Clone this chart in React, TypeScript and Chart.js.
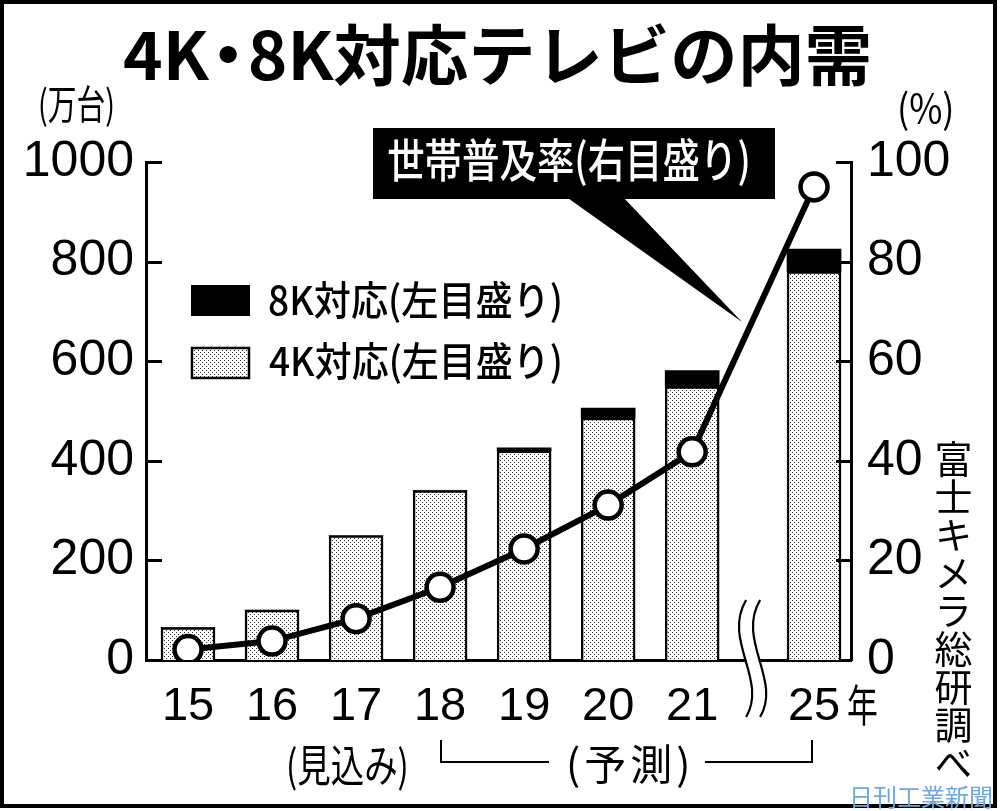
import { useEffect, useRef } from 'react';
import { Chart, registerables } from 'chart.js';

Chart.register(...registerables);

// 年（25年の前で横軸を省略している）
const YEARS = ['15', '16', '17', '18', '19', '20', '21', '25'];
// 4K対応テレビの内需（万台）
const UNITS_4K = [65, 100, 250, 340, 420, 486, 549, 780];
// 8K対応テレビの内需（万台）
const UNITS_8K = [0, 0, 0, 0, 6, 20, 32, 45];
// 世帯普及率（%）
const PENETRATION = [2.1, 3.8, 8.3, 14.6, 22.3, 31.1, 41.8, 95];
const LEFT_TICKS = [0, 200, 400, 600, 800, 1000];
const RIGHT_TICKS = [0, 20, 40, 60, 80, 100];

const BREAK_AT = YEARS.indexOf('25');
const BREAK_GAP = 0.45;
const JP = '"Noto Sans CJK JP", sans-serif';
const NUM = '"Liberation Sans", Arial, sans-serif';

function makeDots() {
  const c = document.createElement('canvas');
  c.width = 4;
  c.height = 4;
  const g = c.getContext('2d')!;
  g.fillStyle = '#fff';
  g.fillRect(0, 0, 4, 4);
  g.fillStyle = '#333';
  g.fillRect(0, 0, 1, 1);
  g.fillRect(2, 2, 1, 1);
  return g.createPattern(c, 'repeat')!;
}

// 文字の墨の幅を left〜right に合わせて描く
function inkText(ctx: CanvasRenderingContext2D, text: string, left: number, right: number, cy: number, font: string, color: string) {
  ctx.save();
  ctx.font = font;
  ctx.textAlign = 'left';
  ctx.textBaseline = 'alphabetic';
  const m = ctx.measureText(text);
  const w = m.actualBoundingBoxLeft + m.actualBoundingBoxRight;
  const y = cy + (m.actualBoundingBoxAscent - m.actualBoundingBoxDescent) / 2;
  ctx.translate(left, y);
  ctx.scale((right - left) / w, 1);
  ctx.fillStyle = color;
  ctx.fillText(text, m.actualBoundingBoxLeft, 0);
  ctx.restore();
}

const decorations = (dots: CanvasPattern) => ({
  id: 'decorations',
  afterDraw(chart: any) {
    const ctx: CanvasRenderingContext2D = chart.ctx;
    const { left, right, bottom } = chart.chartArea;
    const y = chart.scales.y;
    const y2 = chart.scales.y2;
    const x = chart.scales.x;
    ctx.save();
    ctx.strokeStyle = '#000';
    ctx.lineWidth = 3;
    // 内向きの目盛り
    LEFT_TICKS.forEach(v => {
      if (v === 0) return;
      const py = Math.round(y.getPixelForValue(v)) + 0.5;
      ctx.beginPath();
      ctx.moveTo(left, py);
      ctx.lineTo(left + 16, py);
      ctx.stroke();
    });
    RIGHT_TICKS.forEach(v => {
      if (v === 0) return;
      const py = Math.round(y2.getPixelForValue(v)) + 0.5;
      ctx.beginPath();
      ctx.moveTo(right - 15, py);
      ctx.lineTo(right, py);
      ctx.stroke();
    });

    // 省略記号
    const mid = x.getPixelForValue((BREAK_AT - 1 + BREAK_AT + BREAK_GAP) / 2);
    const wave = (x0: number) => {
      const t = bottom - 60;
      ctx.beginPath();
      ctx.moveTo(x0, t);
      ctx.bezierCurveTo(x0 - 24, t + 40, x0 + 22, t + 80, x0, t + 117);
    };
    ctx.strokeStyle = '#fff';
    ctx.lineWidth = 12;
    wave(mid);
    ctx.stroke();
    ctx.strokeStyle = '#000';
    ctx.lineWidth = 2.2;
    wave(mid - 7);
    ctx.stroke();
    wave(mid + 7);
    ctx.stroke();

    // 凡例
    ctx.fillStyle = '#000';
    ctx.fillRect(191, 285, 59, 31);
    ctx.fillStyle = dots;
    ctx.fillRect(191, 347, 59, 32);
    ctx.lineWidth = 2.5;
    ctx.strokeRect(192, 348, 57, 30);
    inkText(ctx, '8K対応(左目盛り)', 269, 560, 301, `500 40px ${JP}`, '#000');
    inkText(ctx, '4K対応(左目盛り)', 269, 560, 362, `500 40px ${JP}`, '#000');

    // 世帯普及率の吹き出し
    ctx.fillStyle = '#000';
    ctx.beginPath();
    ctx.moveTo(565, 196);
    ctx.lineTo(742, 322);
    ctx.lineTo(622, 196);
    ctx.closePath();
    ctx.fill();
    ctx.fillRect(373, 128, 402, 71);
    inkText(ctx, '世帯普及率(右目盛り)', 388, 748, 162, `500 46px ${JP}`, '#fff');
    ctx.restore();
  },
});

const abs = (l: number, t: number, size: number, extra: any = {}) => ({
  position: 'absolute' as const,
  left: l,
  top: t,
  fontFamily: JP,
  fontSize: size,
  lineHeight: 1,
  whiteSpace: 'nowrap' as const,
  color: '#000',
  transformOrigin: 'left top',
  ...extra,
});

export default function App() {
  const canvasRef = useRef<HTMLCanvasElement>(null);
  const chartRef = useRef<Chart | null>(null);

  useEffect(() => {
    if (!canvasRef.current) return;
    if (chartRef.current) chartRef.current.destroy();

    const dots = makeDots();
    const slots = YEARS.map((_, i) => (i < BREAK_AT ? i : i + BREAK_GAP));
    const pts = (vals: number[]) => vals.map((v, i) => ({ x: slots[i], y: v }));

    chartRef.current = new Chart(canvasRef.current, {
      type: 'bar',
      data: {
        datasets: [
          {
            type: 'line',
            label: '世帯普及率',
            data: pts(PENETRATION),
            yAxisID: 'y2',
            borderColor: '#000',
            borderWidth: 6,
            pointRadius: 13.5,
            pointBorderWidth: 4.5,
            pointBackgroundColor: '#fff',
            pointBorderColor: '#000',
            order: 0,
          } as any,
          {
            label: '4K対応',
            data: pts(UNITS_4K),
            yAxisID: 'y',
            stack: 'tv',
            backgroundColor: dots,
            borderColor: '#000',
            borderWidth: 2.5,
            barThickness: 54,
            order: 1,
          },
          {
            label: '8K対応',
            data: pts(UNITS_8K),
            yAxisID: 'y',
            stack: 'tv',
            backgroundColor: '#000',
            borderWidth: 0,
            barThickness: 54,
            order: 1,
          },
        ],
      },
      options: {
        responsive: false,
        animation: false,
        devicePixelRatio: 1,
        layout: { padding: { top: 162, bottom: 91, left: 0, right: 0 } },
        plugins: { legend: { display: false }, tooltip: { enabled: false } },
        scales: {
          x: {
            type: 'linear',
            min: -0.5,
            max: BREAK_AT + BREAK_GAP + 0.44,
            offset: false,
            grid: { display: false, drawTicks: false },
            border: { display: true, color: '#000', width: 3 },
            afterBuildTicks: (s: any) => { s.ticks = slots.map(v => ({ value: v })); },
            afterFit: (s: any) => { s.height = 60; },
            ticks: {
              autoSkip: false,
              maxRotation: 0,
              padding: 19,
              color: '#000',
              font: { family: NUM, size: 47 },
              callback: (_v: any, i: number) => YEARS[i],
            },
          },
          y: {
            position: 'left',
            stacked: true,
            min: 0,
            max: 1000,
            grid: { display: false, drawTicks: false },
            border: { display: true, color: '#000', width: 3 },
            afterBuildTicks: (s: any) => { s.ticks = LEFT_TICKS.map(v => ({ value: v })); },
            afterFit: (s: any) => { s.width = 146; },
            ticks: { padding: 12, color: '#000', font: { family: NUM, size: 50 }, callback: (v: any) => String(v) },
          },
          y2: {
            position: 'right',
            min: 0,
            max: 100,
            grid: { display: false, drawTicks: false },
            border: { display: true, color: '#000', width: 3 },
            afterBuildTicks: (s: any) => { s.ticks = RIGHT_TICKS.map(v => ({ value: v })); },
            afterFit: (s: any) => { s.width = 149; },
            ticks: { padding: 16, color: '#000', font: { family: NUM, size: 50 }, callback: (v: any) => String(v) },
          },
        },
      },
      plugins: [decorations(dots)],
    });

    return () => {
      if (chartRef.current) { chartRef.current.destroy(); chartRef.current = null; }
    };
  }, []);

  return (
    <div style={{ position: 'absolute', left: 0, top: 0, width: 1000, height: 811, background: '#fff', overflow: 'hidden' }}>
      <canvas ref={canvasRef} width={1000} height={811} style={{ position: 'absolute', left: 0, top: 0 }} />
      <div style={{ position: 'absolute', left: 0, top: 0, width: 997, height: 808, boxSizing: 'border-box', border: '4px solid #000' }} />
      <div style={abs(123, 18, 66, { fontWeight: 700, transform: 'scaleX(1.02)' })}>
        4K<span style={{ margin: '0 -14px' }}>・</span>8K対応テレビの内需
      </div>
      <div style={abs(38, 82, 40, { transform: 'scaleX(0.72)' })}>(万台)</div>
      <div style={abs(897, 86, 40, { transform: 'scaleX(0.9)' })}>(%)</div>
      <div style={abs(847, 681, 44, { transform: 'scaleX(0.7)' })}>年</div>
      <div style={abs(286, 741, 44, { transform: 'scaleX(0.76)' })}>(見込み)</div>
      <div style={abs(566, 741, 42, { letterSpacing: 4 })}>(予測)</div>
      <div style={{ position: 'absolute', left: 440, top: 740, width: 2, height: 23, background: '#000' }} />
      <div style={{ position: 'absolute', left: 440, top: 761, width: 109, height: 2, background: '#000' }} />
      <div style={{ position: 'absolute', left: 705, top: 761, width: 108, height: 2, background: '#000' }} />
      <div style={{ position: 'absolute', left: 811, top: 740, width: 2, height: 23, background: '#000' }} />
      <div style={abs(934, 440, 38, { writingMode: 'vertical-rl' })}>富士キメラ総研調べ</div>
      <div style={abs(849, 784, 24, { color: '#6fa7e3' })}>日刊工業新聞</div>
    </div>
  );
}
